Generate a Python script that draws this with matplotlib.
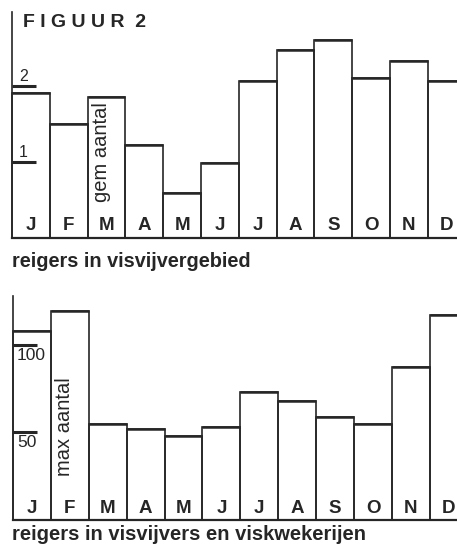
import matplotlib
matplotlib.use('Agg')
import matplotlib.pyplot as plt
import numpy as np

# Monthly heron counts
months = ['J', 'F', 'M', 'A', 'M', 'J', 'J', 'A', 'S', 'O', 'N', 'D']
gem_aantal = [1.91, 1.50, 1.86, 1.22, 0.59, 0.99, 2.06, 2.47, 2.61, 2.11, 2.33, 2.07]
max_aantal = [108, 119, 55, 52, 48, 53, 73, 68, 58.5, 55, 87, 117]
ticks_top = [1, 2]
ticks_bottom = [50, 100]

W, H = 457, 546
INK = '#262626'
FONT = 'Liberation Sans'

plt.rcParams['font.family'] = [FONT, 'DejaVu Sans']
fig = plt.figure(figsize=(W / 100, H / 100), dpi=100)
fig.patch.set_facecolor('white')


def px_axes(left, right, top, bottom):
    # place an axes using pixel positions of the picture
    return fig.add_axes([left / W, 1 - bottom / H, (right - left) / W, (bottom - top) / H])


def panel(ax, values, ticks, xmax, ymax, lab_y, tick_above, vert_text, vert_x, vert_y):
    x = np.arange(len(values))
    ax.bar(x, values, width=1.0, align='edge', fill=False,
           edgecolor=INK, linewidth=1.2, clip_on=False)
    # slightly heavier top edges, as in the print
    ax.hlines(values, x, x + 1, color=INK, linewidth=1.8)
    ax.set_xlim(0, xmax)
    ax.set_ylim(0, ymax)
    for s in ['top', 'right']:
        ax.spines[s].set_visible(False)
    ax.spines['left'].set_linewidth(1.2)
    ax.spines['bottom'].set_linewidth(1.6)
    ax.spines['left'].set_color(INK)
    ax.spines['bottom'].set_color(INK)
    ax.set_xticks([])
    ax.set_yticks(ticks)
    ax.tick_params(axis='y', direction='in', length=17, width=2.2, color=INK,
                   labelleft=False)
    for t in ticks:
        if tick_above:
            ax.annotate(str(t), (0, t), xytext=(7, 2), textcoords='offset pixels',
                        ha='left', va='bottom', fontsize=11.5, color=INK)
        else:
            ax.annotate(str(t), (0, t), xytext=(4, -3), textcoords='offset pixels',
                        ha='left', va='top', fontsize=12.5, color=INK)
    for i, m in enumerate(months):
        ax.text(i + 0.5, lab_y, m, ha='center', va='baseline', fontsize=13.5,
                fontweight='bold', color=INK)
    ax.text(vert_x, vert_y, vert_text, rotation=90, ha='center', va='center',
            fontsize=14.5, color=INK)


ax1 = px_axes(12, 457, 12, 238)
panel(ax1, gem_aantal, ticks_top, 445 / 37.8, 226 / 76.0, 0.105, True,
      'gem aantal', 2.38, 1.13)

ax2 = px_axes(13, 457, 296, 520)
panel(ax2, max_aantal, ticks_bottom, 444 / 37.9, 224 / 1.754, 4.0, False,
      'max aantal', 1.37, 53)

fig.text(23 / W, 1 - 27 / H, 'F I G U U R  2', ha='left', va='baseline',
         fontsize=14, fontweight='bold', color=INK)
fig.text(12 / W, 1 - 267 / H, 'reigers in visvijvergebied', ha='left',
         va='baseline', fontsize=14.3, fontweight='bold', color=INK)
fig.text(12 / W, 1 - 540 / H, 'reigers in visvijvers en viskwekerijen', ha='left',
         va='baseline', fontsize=14.5, fontweight='bold', color=INK)

fig.savefig('out.png', dpi=100, facecolor='white')
